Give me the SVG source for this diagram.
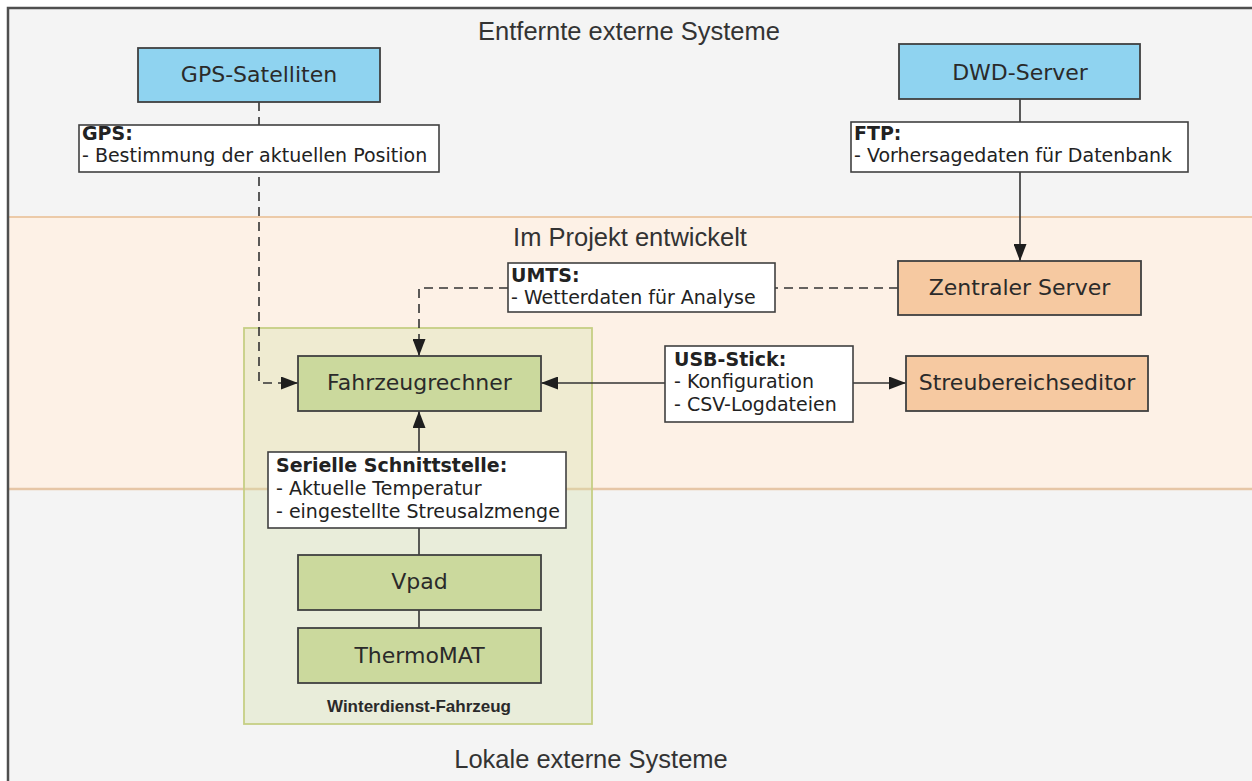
<svg xmlns="http://www.w3.org/2000/svg" width="1252" height="781" viewBox="0 0 1252 781">
  <style>
    .node rect { stroke: #404040; stroke-width: 1.8; }
    .ext rect { fill: #8fd3f0; }
    .dev rect { fill: #f6c9a1; }
    .veh rect { fill: #cbd99d; }
    .node text { font-family: "DejaVu Sans", Verdana, sans-serif; font-size: 22px; fill: #2a2a2a; text-anchor: middle; }
    .lbl rect { fill: #ffffff; stroke: #404040; stroke-width: 1.6; }
    .lbl text { font-family: "DejaVu Sans", Verdana, sans-serif; font-size: 19px; fill: #222; }
    .lbl .t { font-weight: bold; }
    .zone { font-family: "Liberation Sans", Arial, sans-serif; font-size: 25.5px; fill: #333; text-anchor: middle; }
    .conn { fill: none; stroke: #333; stroke-width: 1.6; }
    .dash { stroke-dasharray: 9 6; }
  </style>
  <defs>
    <marker id="arrow" markerUnits="userSpaceOnUse" markerWidth="17" markerHeight="13" refX="17" refY="6.5" orient="auto-start-reverse">
      <path d="M0,0 L17,6.5 L0,13 z" fill="#1e1e1e"/>
    </marker>
  </defs>

  <!-- page background and frame -->
  <rect x="0" y="0" width="1252" height="781" fill="#ffffff"/>
  <rect x="8" y="8" width="1250" height="780" fill="#f4f4f4"/>

  <!-- middle band: developed in the project -->
  <rect x="8" y="217" width="1244" height="272" fill="#fdf1e6"/>
  <line x1="8" y1="217" x2="1252" y2="217" stroke="#eccaa8" stroke-width="2"/>
  <line x1="8" y1="489" x2="1252" y2="489" stroke="#e6c6a6" stroke-width="2.5"/>

  <path d="M8,781 L8,8 L1252,8" fill="none" stroke="#4f4f4f" stroke-width="2.5"/>

  <text class="zone" x="629" y="40">Entfernte externe Systeme</text>
  <text class="zone" x="630" y="246">Im Projekt entwickelt</text>
  <text class="zone" x="591" y="768">Lokale externe Systeme</text>

  <!-- vehicle container -->
  <g id="winterdienst-fahrzeug">
    <rect x="244" y="328" width="348" height="396" fill="#d4e0a8" fill-opacity="0.35" stroke="#c6cf84" stroke-width="1.8"/>
    <text x="419" y="712" font-family="Liberation Sans, Arial, sans-serif" font-size="17" font-weight="bold" fill="#2a2a2a" text-anchor="middle">Winterdienst-Fahrzeug</text>
  </g>

  <!-- connectors -->
  <g id="connectors">
    <path class="conn dash" d="M259,102 L259,383 L298,383" marker-end="url(#arrow)"/>
    <path class="conn dash" d="M898,288 L419,288 L419,356" marker-end="url(#arrow)"/>
    <path class="conn" d="M1020,99 L1020,261" marker-end="url(#arrow)"/>
    <path class="conn" d="M541,383 L906,383" marker-start="url(#arrow)" marker-end="url(#arrow)"/>
    <path class="conn" d="M419,452 L419,411" marker-end="url(#arrow)"/>
    <path class="conn" d="M419,528 L419,555"/>
    <path class="conn" d="M419,610 L419,628"/>
  </g>

  <!-- connector labels -->
  <g id="label-gps" class="lbl">
    <rect x="79" y="125" width="360" height="47"/>
    <text class="t" x="82" y="140">GPS:</text>
    <text x="82" y="162" font-size="19.8">- Bestimmung der aktuellen Position</text>
  </g>
  <g id="label-ftp" class="lbl">
    <rect x="851" y="122" width="337" height="50"/>
    <text class="t" x="854" y="140">FTP:</text>
    <text x="854" y="162" font-size="19.6">- Vorhersagedaten für Datenbank</text>
  </g>
  <g id="label-umts" class="lbl">
    <rect x="508" y="263" width="267" height="49"/>
    <text class="t" x="511" y="282">UMTS:</text>
    <text x="511" y="304" font-size="19.6">- Wetterdaten für Analyse</text>
  </g>
  <g id="label-usb" class="lbl">
    <rect x="665" y="346" width="188" height="76"/>
    <text class="t" x="674" y="366">USB-Stick:</text>
    <text x="674" y="388">- Konfiguration</text>
    <text x="674" y="411">- CSV-Logdateien</text>
  </g>
  <g id="label-seriell" class="lbl">
    <rect x="268" y="452" width="298" height="76"/>
    <text class="t" x="276" y="472">Serielle Schnittstelle:</text>
    <text x="276" y="495">- Aktuelle Temperatur</text>
    <text x="276" y="518">- eingestellte Streusalzmenge</text>
  </g>

  <!-- nodes -->
  <g id="gps-satelliten" class="node ext">
    <rect x="138" y="48" width="242" height="54"/>
    <text x="259" y="82">GPS-Satelliten</text>
  </g>
  <g id="dwd-server" class="node ext">
    <rect x="899" y="44" width="241" height="55"/>
    <text x="1020" y="80">DWD-Server</text>
  </g>
  <g id="zentraler-server" class="node dev">
    <rect x="898" y="261" width="243" height="54"/>
    <text x="1019.5" y="295">Zentraler Server</text>
  </g>
  <g id="streubereichseditor" class="node dev">
    <rect x="906" y="356" width="242" height="55"/>
    <text x="1027" y="390">Streubereichseditor</text>
  </g>
  <g id="fahrzeugrechner" class="node veh">
    <rect x="298" y="356" width="243" height="55"/>
    <text x="419.5" y="390">Fahrzeugrechner</text>
  </g>
  <g id="vpad" class="node veh">
    <rect x="298" y="555" width="243" height="55"/>
    <text x="419.5" y="589">Vpad</text>
  </g>
  <g id="thermomat" class="node veh">
    <rect x="298" y="628" width="243" height="55"/>
    <text x="419.5" y="663">ThermoMAT</text>
  </g>
</svg>
